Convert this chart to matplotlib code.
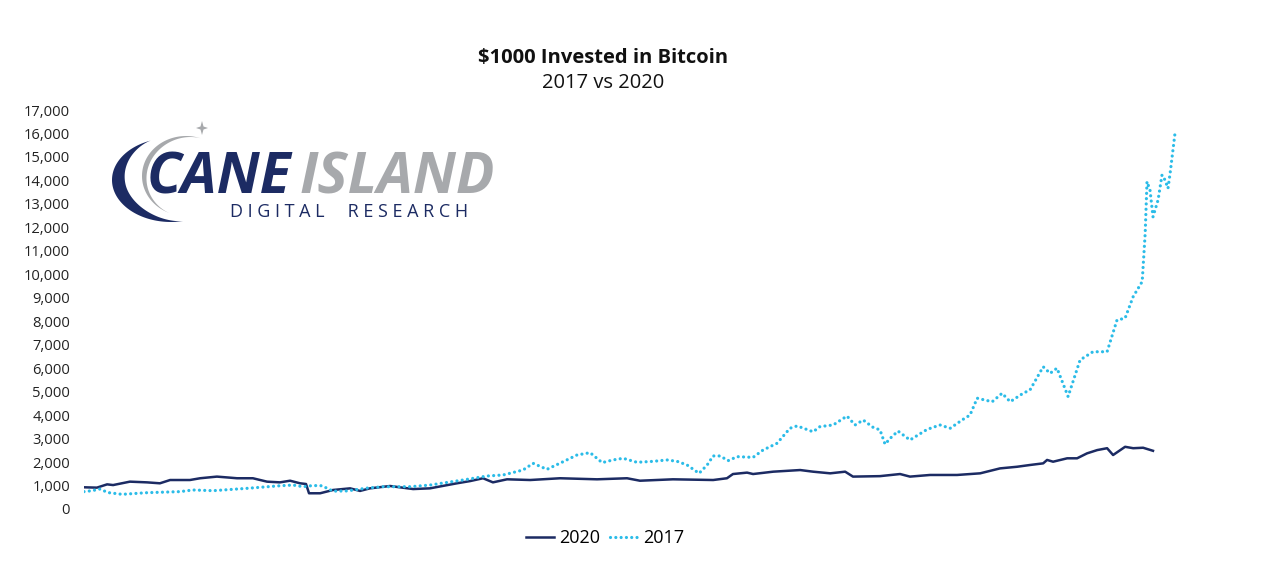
import numpy as np
import matplotlib
matplotlib.use("Agg")
import matplotlib.pyplot as plt
from matplotlib.patches import Polygon
from matplotlib.lines import Line2D

# ---------------- data ----------------
# day index (approx. days since investment) and portfolio value in $
days_2017 = [0, 2.7, 5.3, 8.0, 12.7, 21.0, 32.0, 36.3, 43.0, 54.3, 65.3, 69.7,
             73.0, 76.3, 79.3, 83.0, 87.7, 94.3, 99.7, 108.7, 115.3, 126.3,
             134.3, 139.7, 146.3, 149.7, 154.3, 159.7, 164.3, 168.7, 172.7,
             176.3, 179.7, 184.3, 189.7, 194.3, 197.7, 201.0, 205.0, 207.7,
             209.7, 212.0, 214.7, 217.7, 223.0, 226.3, 231.0, 235.3, 237.7,
             243.0, 245.3, 249.7, 254.3, 257.0, 259.7, 263.0, 265.3, 267.0,
             268.7, 271.3, 275.3, 281.0, 285.3, 288.7, 293.0, 295.3, 297.7,
             302.7, 306.0, 308.7, 313.0, 315.3, 319.7, 322.0, 324.3, 328.0,
             332.0, 336.3, 341.0, 344.3, 347.0, 349.7, 352.7, 353.7, 354.3,
             355.3, 356.3, 358.0, 359.3, 360.3, 361.3, 362.0, 363.7]
vals_2017 = [740, 780, 850, 700, 625, 695, 740, 810, 780, 880, 990, 1020, 950,
             1000, 990, 760, 770, 890, 950, 950, 1020, 1235, 1405, 1450, 1660,
             1945, 1690, 2015, 2300, 2400, 1975, 2090, 2160, 1990, 2030, 2090,
             2030, 1875, 1520, 1875, 2260, 2260, 2060, 2230, 2200, 2510, 2800,
             3440, 3540, 3290, 3510, 3580, 3960, 3580, 3790, 3480, 3370, 2760,
             3010, 3320, 2940, 3390, 3580, 3440, 3820, 4000, 4720, 4570, 4930,
             4570, 4930, 5070, 6060, 5780, 6000, 4790, 6350, 6700, 6700, 8050,
             8130, 9050, 9690, 11750, 13950, 13590, 12450, 13170, 14230, 14020,
             13660, 14300, 16080]

days_2020 = [0, 4.3, 7.7, 9.7, 15.3, 21.0, 25.3, 28.7, 35.3, 38.7, 44.3, 48.7,
             51.0, 56.3, 61.0, 65.3, 68.7, 72.0, 74.0, 75.0, 78.7, 83.0, 88.7,
             92.0, 95.3, 102.0, 109.7, 115.3, 124.3, 128.7, 133.0, 136.3,
             141.0, 148.7, 158.7, 171.0, 181.0, 185.3, 196.3, 209.7, 214.3,
             216.3, 221.0, 223.0, 229.7, 238.7, 243.0, 248.7, 253.7, 256.3,
             265.3, 272.0, 275.3, 282.0, 291.0, 298.7, 305.3, 311.0, 315.3,
             319.7, 321.0, 323.0, 327.7, 331.0, 334.3, 337.7, 341.0, 343.0,
             347.0, 349.7, 353.0, 356.3]
vals_2020 = [925, 910, 1050, 1020, 1165, 1135, 1095, 1235, 1235, 1310, 1380,
             1335, 1310, 1310, 1165, 1135, 1205, 1095, 1065, 670, 670, 810,
             880, 770, 880, 980, 850, 880, 1095, 1190, 1310, 1135, 1265, 1235,
             1310, 1265, 1310, 1205, 1265, 1235, 1310, 1490, 1550, 1490, 1590,
             1660, 1590, 1520, 1590, 1380, 1400, 1490, 1380, 1450, 1450, 1520,
             1730, 1800, 1875, 1945, 2090, 2015, 2160, 2160, 2370, 2510, 2590,
             2300, 2650, 2590, 2610, 2480]

series_labels = ["2020", "2017"]
title_text = "$1000 Invested in Bitcoin"
subtitle_text = "2017 vs 2020"
y_ticks = list(range(0, 17001, 1000))
y_ticklabels = [f"{v:,}" for v in y_ticks]

NAVY = "#1C2B63"
CYAN = "#2BBCE8"
GRAY = "#A7A9AC"
DOTS = (0, (0.01, 1.65))

W, H = 1265, 564
plt.rcParams['font.family'] = ['Open Sans', 'DejaVu Sans']
fig = plt.figure(figsize=(W / 100, H / 100), dpi=100)

# ---------------- main axes ----------------
ax = fig.add_axes([84 / W, 1 - 509 / H, (1180 - 84) / W, (509 - 110) / H])
ax.plot(days_2020, vals_2020, color=NAVY, lw=1.8, solid_joinstyle='round')
ax.plot(days_2017, vals_2017, color=CYAN, lw=2.3, linestyle=DOTS,
        dash_capstyle='round')
ax.set_xlim(0, 365.3)
ax.set_ylim(0, 17000)
ax.set_yticks(y_ticks)
ax.set_yticklabels(y_ticklabels, fontsize=10.6, color="#222222")
ax.set_xticks([])
ax.tick_params(axis='y', length=0, pad=10)
for s in ax.spines.values():
    s.set_visible(False)

# titles
fig.text(603 / W, 1 - 58 / H, title_text, ha='center', va='center',
         fontsize=14.5, fontweight='bold', color="#111111")
fig.text(603 / W, 1 - 83 / H, subtitle_text, ha='center', va='center',
         fontsize=14.5, color="#111111")

# legend
handles = [Line2D([], [], color=NAVY, lw=1.8),
           Line2D([], [], color=CYAN, lw=2.3, linestyle=DOTS,
                  dash_capstyle='round')]
fig.legend(handles, series_labels, loc='center', ncol=2, frameon=False,
           bbox_to_anchor=(605 / W, 1 - 538 / H), fontsize=13,
           handlelength=1.6, columnspacing=0.55, handletextpad=0.25)

# ---------------- logo (decoration in pixel coords) ----------------
lax = fig.add_axes([0, 0, 1, 1], zorder=5)
lax.set_xlim(0, W)
lax.set_ylim(H, 0)
lax.axis('off')
lax.patch.set_alpha(0)


def crescent(cx, cy, rx, ry, a0, a1, wmax, color, peak=0.5):
    t = np.linspace(0, 1, 160)
    ang = np.radians(a0 + (a1 - a0) * t)
    s = np.where(t < peak, t / peak, (1 - t) / (1 - peak))
    w = wmax * np.sin(np.pi / 2 * s) ** 1.3
    outer = np.c_[cx + rx * np.cos(ang), cy + ry * np.sin(ang)]
    inner = np.c_[cx + (rx - w) * np.cos(ang), cy + (ry - w) * np.sin(ang)]
    pts = np.vstack([outer, inner[::-1]])
    lax.add_patch(Polygon(pts, closed=True, color=color, lw=0))


crescent(171, 180, 59, 42, 250, 78, 13, NAVY, peak=0.45)
crescent(186, 176, 44, 40, 290, 112, 5, GRAY, peak=0.5)
# sparkle
sx, sy = 202, 128
lax.add_patch(Polygon([[sx, sy - 7], [sx + 1.5, sy - 1.5], [sx + 6, sy],
                       [sx + 1.5, sy + 1.5], [sx, sy + 7], [sx - 1.5, sy + 1.5],
                       [sx - 6, sy], [sx - 1.5, sy - 1.5]], closed=True,
                      color=GRAY, lw=0))

lax.text(147, 194, "CANE", fontsize=41, fontweight='bold', fontstyle='italic',
         color=NAVY, ha='left', va='baseline', family=['Open Sans'])
lax.text(300, 194, "ISLAND", fontsize=41, fontweight='bold', fontstyle='italic',
         color=GRAY, ha='left', va='baseline', family=['Open Sans'])
lax.text(230, 217, "D I G I T A L     R E S E A R C H", fontsize=13,
         color=NAVY, ha='left', va='baseline', family=['Open Sans'])

fig.savefig("out.png", dpi=100, facecolor='white')
